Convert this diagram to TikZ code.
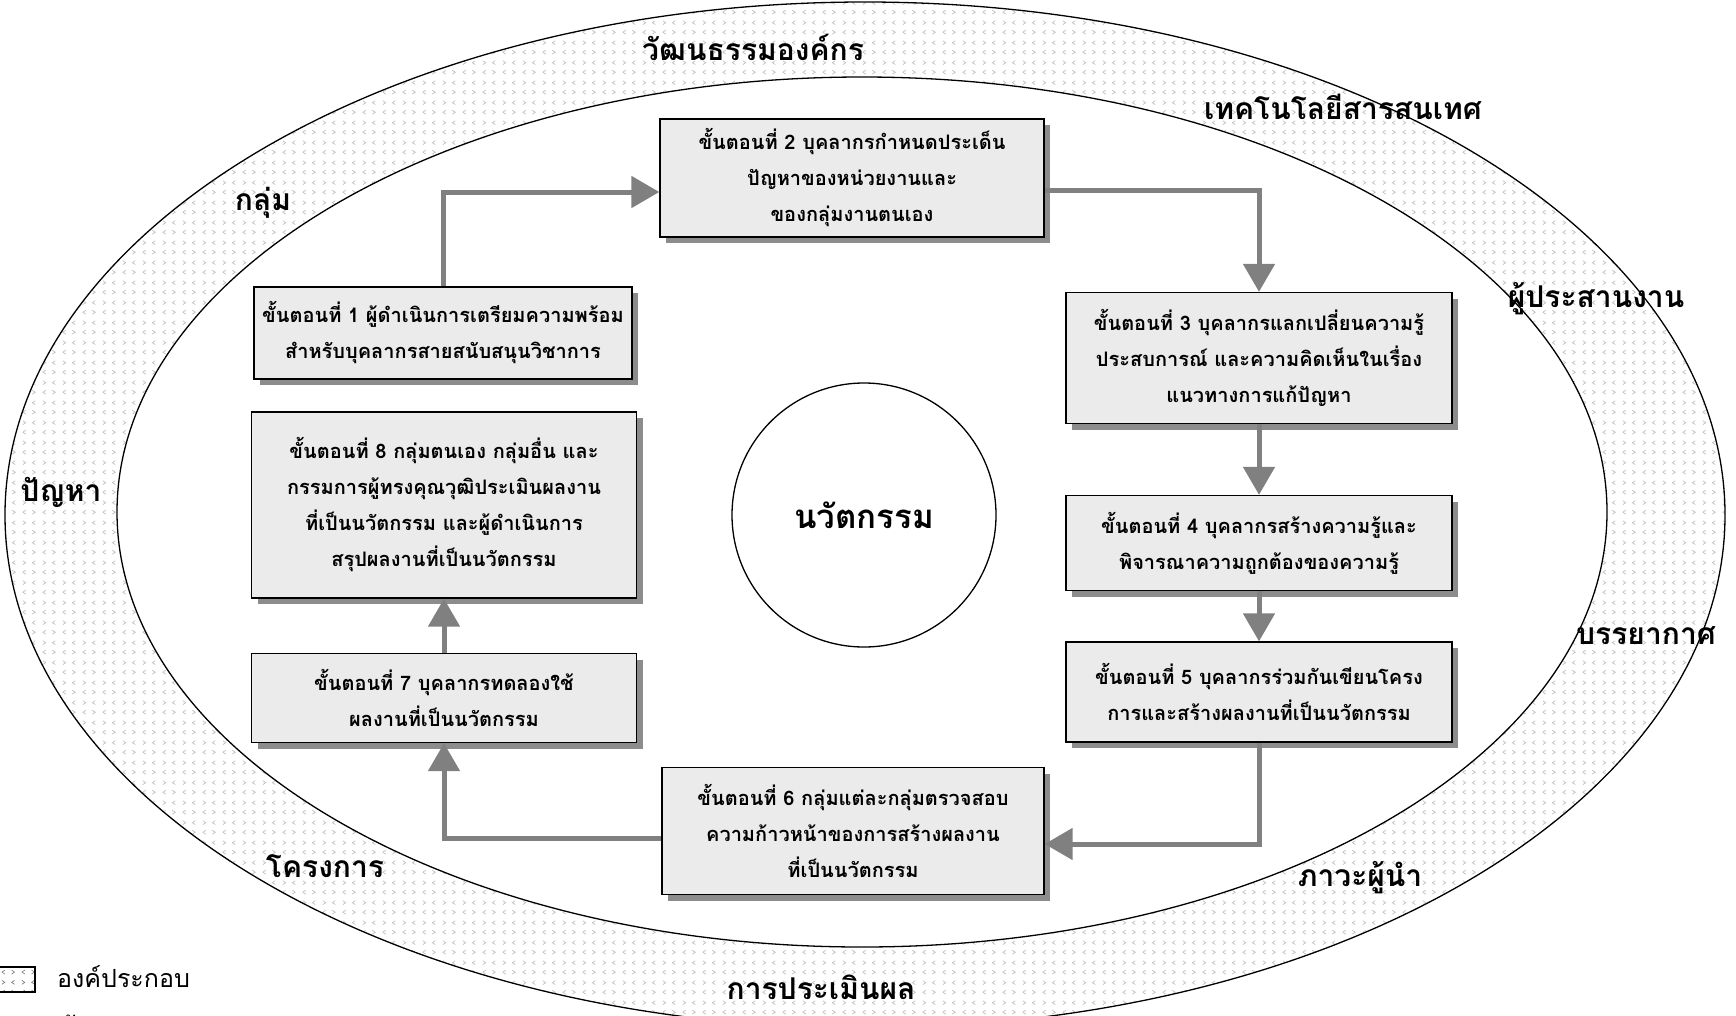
\documentclass[tikz,border=0pt]{standalone}
\usepackage{fontspec}
\newfontfamily\thai[Script=Thai]{Loma}
\usetikzlibrary{arrows.meta,shadows,patterns}

% small grey chevrons used inside the ring
\pgfdeclarepatternformonly{chevrons}{\pgfpointorigin}{\pgfqpoint{20pt}{20pt}}{\pgfqpoint{20pt}{20pt}}{%
  \pgfsetlinewidth{0.7pt}%
  \pgfpathmoveto{\pgfqpoint{3pt}{16pt}}\pgfpathlineto{\pgfqpoint{6pt}{14pt}}\pgfpathlineto{\pgfqpoint{3pt}{12pt}}%
  \pgfpathmoveto{\pgfqpoint{16pt}{16pt}}\pgfpathlineto{\pgfqpoint{13pt}{14pt}}\pgfpathlineto{\pgfqpoint{16pt}{12pt}}%
  \pgfpathmoveto{\pgfqpoint{6pt}{6pt}}\pgfpathlineto{\pgfqpoint{3pt}{4pt}}\pgfpathlineto{\pgfqpoint{6pt}{2pt}}%
  \pgfpathmoveto{\pgfqpoint{13pt}{6pt}}\pgfpathlineto{\pgfqpoint{16pt}{4pt}}\pgfpathlineto{\pgfqpoint{13pt}{2pt}}%
  \pgfusepath{stroke}%
}

\definecolor{boxgray}{HTML}{EBEBEB}
\definecolor{shadowgray}{HTML}{8C8C8C}
\definecolor{arrowgray}{HTML}{808080}
\definecolor{dotgray}{HTML}{BDBDBD}

\tikzset{
  stepbox/.style={draw=black, line width=1.3pt, fill=boxgray,
    drop shadow={shadow xshift=6pt, shadow yshift=-6pt, fill=shadowgray, opacity=1},
    align=center, inner sep=0pt,
    font=\thai\bfseries\fontsize{20}{36}\selectfont},
  ringlabel/.style={font=\thai\bfseries\fontsize{30}{34}\selectfont, inner sep=0pt},
  flow/.style={draw=arrowgray, line width=5pt,
    -{Triangle[width=31pt,length=28pt]}},
}

\begin{document}
\begin{tikzpicture}[x=1pt,y=-1pt]
\useasboundingbox (0,0) rectangle (1736,1015);
\clip (0,0) rectangle (1736,1015);

% the ring of components
\fill[pattern=chevrons, pattern color=dotgray, even odd rule]
  (865,515) ellipse [x radius=860pt, y radius=513pt]
  (862,512) ellipse [x radius=745pt, y radius=435pt];
\draw[line width=1.3pt] (865,515) ellipse [x radius=860pt, y radius=513pt];
\draw[line width=1.3pt] (862,512) ellipse [x radius=745pt, y radius=435pt];

% ring labels
\node[ringlabel] (l1) at (753,47)  {วัฒนธรรมองค์กร};
\node[ringlabel] (l2) at (1343,107) {เทคโนโลยีสารสนเทศ};
\node[ringlabel] (l3) at (263,203) {กลุ่ม};
\node[ringlabel] (l4) at (1596,299) {ผู้ประสานงาน};
\node[ringlabel] (l5) at (61,492)  {ปัญหา};
\node[ringlabel] (l6) at (1646,636) {บรรยากาศ};
\node[ringlabel] (l7) at (325,866) {โครงการ};
\node[ringlabel] (l8) at (1360,878) {ภาวะผู้นำ};
\node[ringlabel] (l9) at (821,987) {การประเมินผล};

% core
\node[circle, draw, line width=1.3pt, minimum size=264pt, inner sep=0pt,
      font=\thai\bfseries\fontsize{33}{36}\selectfont] (core) at (864,515) {นวัตกรรม};

% steps
\node[stepbox, minimum width=378pt, minimum height=92pt]  (b1) at (443,333)
  {ขั้นตอนที่ 1 ผู้ดำเนินการเตรียมความพร้อม\\สำหรับบุคลากรสายสนับสนุนวิชาการ};
\node[stepbox, minimum width=384pt, minimum height=118pt] (b2) at (852,178)
  {ขั้นตอนที่ 2 บุคลากรกำหนดประเด็น\\ปัญหาของหน่วยงานและ\\ของกลุ่มงานตนเอง};
\node[stepbox, minimum width=386pt, minimum height=131pt] (b3) at (1259,358)
  {ขั้นตอนที่ 3 บุคลากรแลกเปลี่ยนความรู้\\ประสบการณ์ และความคิดเห็นในเรื่อง\\แนวทางการแก้ปัญหา};
\node[stepbox, minimum width=386pt, minimum height=95pt]  (b4) at (1259,543)
  {ขั้นตอนที่ 4 บุคลากรสร้างความรู้และ\\พิจารณาความถูกต้องของความรู้};
\node[stepbox, minimum width=386pt, minimum height=100pt] (b5) at (1259,692)
  {ขั้นตอนที่ 5 บุคลากรร่วมกันเขียนโครง\\การและสร้างผลงานที่เป็นนวัตกรรม};
\node[stepbox, minimum width=382pt, minimum height=127pt] (b6) at (853,831)
  {ขั้นตอนที่ 6 กลุ่มแต่ละกลุ่มตรวจสอบ\\ความก้าวหน้าของการสร้างผลงาน\\ที่เป็นนวัตกรรม};
\node[stepbox, minimum width=385pt, minimum height=89pt]  (b7) at (444,698)
  {ขั้นตอนที่ 7 บุคลากรทดลองใช้\\ผลงานที่เป็นนวัตกรรม};
\node[stepbox, minimum width=385pt, minimum height=186pt] (b8) at (444,505)
  {ขั้นตอนที่ 8 กลุ่มตนเอง กลุ่มอื่น และ\\กรรมการผู้ทรงคุณวุฒิประเมินผลงาน\\ที่เป็นนวัตกรรม และผู้ดำเนินการ\\สรุปผลงานที่เป็นนวัตกรรม};

% flow between steps
\draw[flow] (b1.north) |- ([yshift=-14pt]b2.west);
\draw[flow] ([yshift=-12pt]b2.east) -| (b3.north);
\draw[flow] (b3.south) -- (b4.north);
\draw[flow] (b4.south) -- (b5.north);
\draw[flow] (b5.south) |- ([yshift=-13pt]b6.east);
\draw[flow] ([yshift=-7pt]b6.west) -| (b7.south);
\draw[flow] (b7.north) -- (b8.south);

% legend
\draw[line width=1.3pt, pattern=chevrons, pattern color=gray] (-2,967) rectangle (35,992);
\node[anchor=base west, inner sep=0pt, font=\thai\fontsize{25}{28}\selectfont] (leg1) at (57,987) {องค์ประกอบ};
\node[anchor=base west, inner sep=0pt, font=\thai\fontsize{25}{28}\selectfont] (leg2) at (57,1041) {ขั้นตอน};
\end{tikzpicture}
\end{document}
